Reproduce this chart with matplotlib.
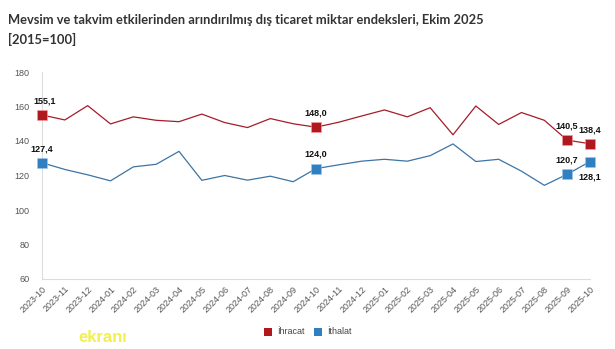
import matplotlib
matplotlib.use("Agg")
import matplotlib.pyplot as plt

months = ["2023-10", "2023-11", "2023-12", "2024-01", "2024-02", "2024-03", "2024-04",
          "2024-05", "2024-06", "2024-07", "2024-08", "2024-09", "2024-10", "2024-11",
          "2024-12", "2025-01", "2025-02", "2025-03", "2025-04", "2025-05", "2025-06",
          "2025-07", "2025-08", "2025-09", "2025-10"]
ihracat = [155.1, 152.2, 160.5, 149.9, 154.0, 152.0, 151.2, 155.6, 150.7, 147.8, 153.0,
           150.0, 148.0, 150.9, 154.5, 158.0, 154.0, 159.3, 143.6, 160.3, 149.6, 156.5,
           152.0, 140.5, 138.4]
ithalat = [127.4, 123.5, 120.4, 116.9, 125.0, 126.5, 134.0, 117.2, 120.0, 117.3, 119.6,
           116.4, 124.0, 126.2, 128.3, 129.4, 128.3, 131.5, 138.3, 128.1, 129.4, 122.5,
           114.3, 120.7, 128.1]
yticks = [60, 80, 100, 120, 140, 160, 180]
labeled = [0, 12, 23, 24]
series_names = ["İhracat", "İthalat"]

RED = "#b01820"
BLUE = "#2f7fc1"
W, H = 615, 349
fig = plt.figure(figsize=(W / 100, H / 100), dpi=100)
fig.patch.set_facecolor("white")
ax = fig.add_axes([42 / W, 1 - 279 / H, (590 - 42) / W, (279 - 72) / H])

x = list(range(len(months)))
ax.plot(x, ihracat, color="#a51c2a", lw=0.9, zorder=2)
ax.plot(x, ithalat, color="#3d74a3", lw=0.9, zorder=2)
ax.plot([x[i] for i in labeled], [ihracat[i] for i in labeled], ls="none", marker="s",
        ms=7, color=RED, mec="#ff9a9a", mew=0.4, clip_on=False, zorder=3)
ax.plot([x[i] for i in labeled], [ithalat[i] for i in labeled], ls="none", marker="s",
        ms=7, color=BLUE, mec="#9cc8ee", mew=0.4, clip_on=False, zorder=3)

def fmt(v):
    return f"{v:.1f}".replace(".", ",")

for i in labeled:
    ax.annotate(fmt(ihracat[i]), (x[i], ihracat[i]), xytext=(2 if i == 0 else 0, 7),
                textcoords="offset points", ha="center", va="bottom", fontsize=6.5,
                fontweight="bold", color="#111111", family="Liberation Sans")
    below = (i == 24)
    ax.annotate(fmt(ithalat[i]), (x[i], ithalat[i]), xytext=(0, -8 if below else 7),
                textcoords="offset points", ha="center", va="top" if below else "bottom",
                fontsize=6.5, fontweight="bold", color="#111111", family="Liberation Sans")

ax.set_xlim(0, 24)
ax.set_ylim(60, 180)
ax.set_yticks(yticks)
ax.set_yticklabels([str(t) for t in yticks])
ax.set_xticks(x)
ax.set_xticklabels(months, rotation=45, ha="right", va="top", rotation_mode="anchor")
for s in ["top", "right"]:
    ax.spines[s].set_visible(False)
for s in ["left", "bottom"]:
    ax.spines[s].set_color("#dcdcdc")
    ax.spines[s].set_linewidth(0.8)
ax.tick_params(axis="both", length=0, labelsize=6.5, labelcolor="#555555")
ax.tick_params(axis="y", pad=9)
ax.tick_params(axis="x", pad=4)
for lab in ax.get_xticklabels() + ax.get_yticklabels():
    lab.set_family("Liberation Sans")

fig.text(8 / W, 1 - 24 / H, "Mevsim ve takvim etkilerinden arındırılmış dış ticaret miktar endeksleri, Ekim 2025",
         fontsize=9.3, fontweight="bold", color="#333333", family="Lato", va="baseline")
fig.text(8 / W, 1 - 44 / H, "[2015=100]", fontsize=9.3, fontweight="bold", color="#333333",
         family="Lato", va="baseline")

# legend
from matplotlib.patches import Rectangle
for (px, name, col) in [(264, series_names[0], RED), (314, series_names[1], BLUE)]:
    fig.patches.append(Rectangle((px / W, 1 - 336 / H), 8 / W, 8 / H, transform=fig.transFigure,
                                 facecolor=col, edgecolor="none"))
    fig.text((px + 13) / W, 1 - 332 / H, name, fontsize=6.5, color="#444444",
             family="Liberation Sans", va="center")

fig.text(78 / W, 1 - 342 / H, "ekranı", fontsize=12, fontweight="bold", color="#f2ee3a",
         family="Liberation Sans", va="baseline", alpha=0.9)

fig.savefig("out.png", dpi=100, facecolor="white")
